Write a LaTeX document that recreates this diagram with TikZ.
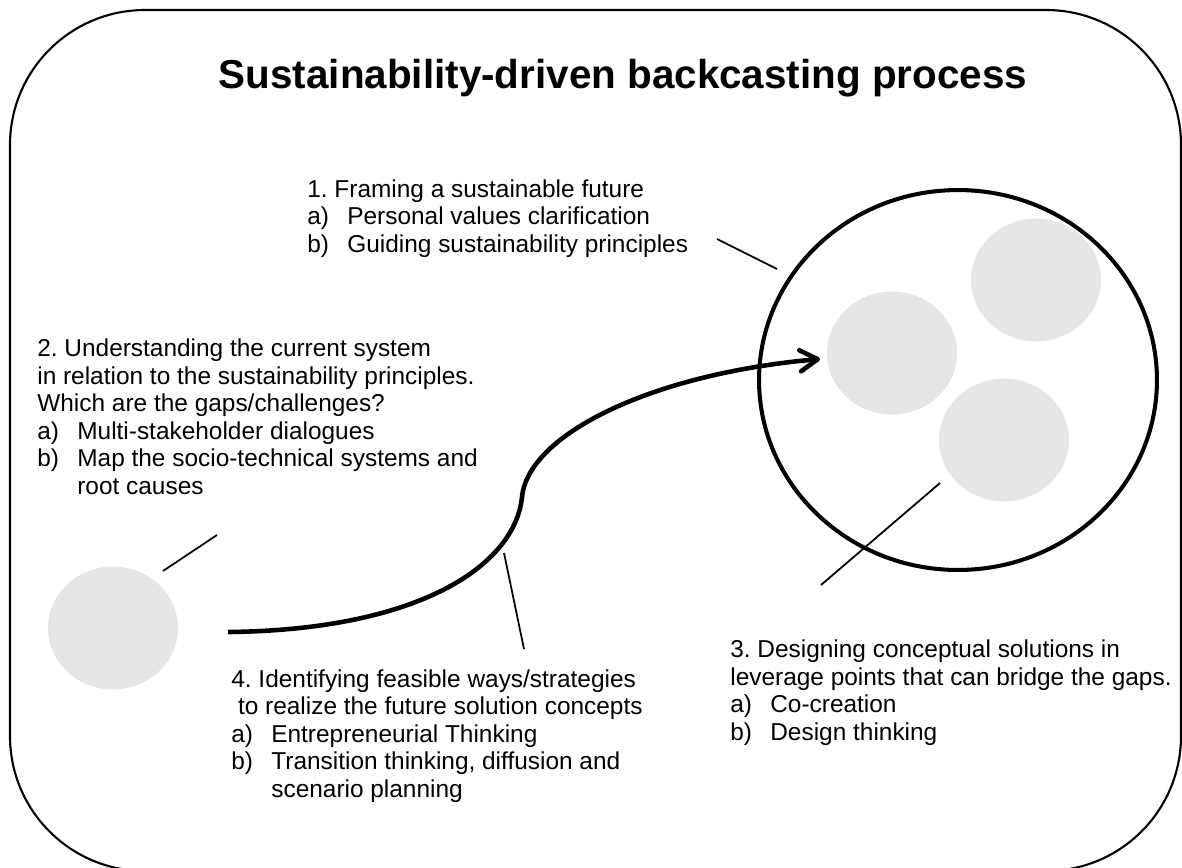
\documentclass[tikz,border=0pt]{standalone}
\usepackage{fontspec}
\setmainfont{Liberation Sans}
\usetikzlibrary{shapes.geometric,arrows.meta}
\definecolor{blobgray}{HTML}{E6E6E6}
\tikzstyle{blob}=[ellipse,fill=blobgray,inner sep=0pt,minimum width=2.6cm,minimum height=2.46cm]
\tikzstyle{world}=[ellipse,draw=black,line width=2.3pt,inner sep=0pt,minimum width=7.96cm,minimum height=7.6cm]
\tikzstyle{note}=[anchor=base west,align=left,inner sep=0pt,font=\fontsize{13.9}{15.65}\selectfont]
\tikzstyle{pointer}=[line width=1pt]
\tikzstyle{journey}=[line width=2.6pt,-{Straight Barb[length=10pt,width=12pt,round]}]
\newcommand{\stageitem}[2]{\makebox[0.8cm][l]{#1}#2}
\frenchspacing

\begin{document}
\begin{tikzpicture}[x=0.02cm,y=-0.02cm]
			\useasboundingbox (0,0) rectangle (1182,867);
			\draw [line width=1.2pt,rounded corners=2.7cm] (10,10) rectangle (1181,871);
			
			\node (title) at (623,88) [anchor=base,font=\fontsize{23}{27}\selectfont\bfseries] {Sustainability-driven backcasting process};
			
			\node (world) at (958,380) [world] {};
			\node (now) at (113,628) [blob] {};
			\node (vision1) at (892,353) [blob] {};
			\node (vision2) at (1036,280) [blob] {};
			\node (vision3) at (1004,440) [blob] {};
			
			% anchors sit on the last baseline of each block
			\node (framing) at (307,252) [note] {1. Framing a sustainable future\\
				\stageitem{a)}{Personal values clarification}\\
				\stageitem{b)}{Guiding sustainability principles}};
			\node (current) at (37,494) [note] {2. Understanding the current system\\
				in relation to the sustainability principles.\\
				Which are the gaps/challenges?\\
				\stageitem{a)}{Multi-stakeholder dialogues}\\
				\stageitem{b)}{Map the socio-technical systems and}\\
				\stageitem{}{root causes}};
			\node (designing) at (730,740) [note] {3. Designing conceptual solutions in\\
				leverage points that can bridge the gaps.\\
				\stageitem{a)}{Co-creation}\\
				\stageitem{b)}{Design thinking}};
			\node (strategies) at (231,797) [note] {4. Identifying feasible ways/strategies\\
				\hspace*{3.8pt}to realize the future solution concepts\\
				\stageitem{a)}{Entrepreneurial Thinking}\\
				\stageitem{b)}{Transition thinking, diffusion and}\\
				\stageitem{}{scenario planning}};
			
			\coordinate (p1a) at (717,239);
			\coordinate (p1b) at (777,269);
			\coordinate (p2a) at (163,571);
			\coordinate (p2b) at (217,535);
			\coordinate (p3a) at (940,483);
			\coordinate (p3b) at (821,585);
			\coordinate (p4a) at (504,553);
			\coordinate (p4b) at (524,649);
			\coordinate (start) at (228,632);
			\coordinate (bend) at (522,497);
			\coordinate (tip) at (820,359);
			
			\draw [pointer] (p1a) -- (p1b);
			\draw [pointer] (p2a) -- (p2b);
			\draw [pointer] (p3a) -- (p3b);
			\draw [pointer] (p4a) -- (p4b);
			
			\draw [journey] (start) .. controls (420,630) and (515,565) .. (bend) .. controls (528,435) and (650,374) .. (tip);
		\end{tikzpicture}
\end{document}
